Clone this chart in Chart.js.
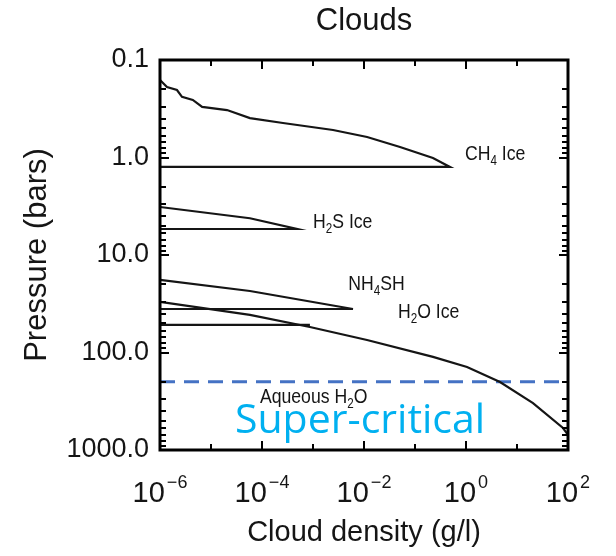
<!DOCTYPE html>
<html>
<head>
<meta charset="utf-8">
<title>Clouds</title>
<script src="https://cdn.jsdelivr.net/npm/chart.js@4"></script>
<style>
  body { margin: 0; background: #fff; }
  canvas { display: block; }
</style>
</head>
<body>
<canvas id="grafico" width="616" height="556"></canvas>
<script>
// cloud density (g/l) against pressure (bars), one array pair per cloud deck
const ch4Density = [1e-6, 1.37e-6, 2.15e-6, 2.7e-6, 4.4e-6, 6.7e-6, 2.06e-5, 5.8e-5, 2.58e-4, 2.47e-3, 0.0115, 0.0508, 0.225, 0.485, 1e-6];
const ch4Pressure = [0.16, 0.189, 0.203, 0.239, 0.257, 0.303, 0.326, 0.394, 0.443, 0.522, 0.616, 0.78, 1.01, 1.25, 1.25];

const h2sDensity = [1e-6, 5.8e-5, 4.85e-4, 1e-6];
const h2sPressure = [3.22, 4.2, 5.41, 5.41];

const nh4shDensity = [1e-6, 5.8e-5, 6.08e-3, 1e-6];
const nh4shPressure = [18.0, 23.4, 35.8, 35.8];

// water: ice deck running into the aqueous profile
const h2oDensity = [1e-6, 5.8e-5, 8.7e-4, 0.01146, 0.2254, 1.047, 4.64, 20.6, 79.8, 100];
const h2oPressure = [30.3, 41.2, 54.8, 74.5, 111, 141, 201, 330, 595, 700];
const h2oIceBaseDensity = [1e-6, 8.7e-4];
const h2oIceBasePressure = [52.2, 52.2];

// critical pressure of water
const criticalDensity = [1e-6, 100];
const criticalPressure = [200, 200];

const yTicks = [0.1, 1, 10, 100, 1000];
const yTickLabels = ['0.1', '1.0', '10.0', '100.0', '1000.0'];
const xTicks = [1e-6, 1e-4, 1e-2, 1, 100];
const xTickExponents = ['\u22126', '\u22124', '\u22122', '0', '2'];

// in-plot labels: segments [text, isSubscript], anchored at data coords (left, baseline)
const labelParts = [
  [['CH', 0], ['4', 1], [' Ice', 0]],
  [['H', 0], ['2', 1], ['S Ice', 0]],
  [['NH', 0], ['4', 1], ['SH', 0]],
  [['H', 0], ['2', 1], ['O Ice', 0]],
  [['Aqueous H', 0], ['2', 1], ['O', 0]]
];
const labelX = [0.955, 1.0e-3, 4.9e-3, 0.0464, 9.1e-5];
const labelY = [1.06, 5.28, 22.9, 44.3, 330];

const phaseLabel = 'Super-critical';
const phaseX = 2.95e-5;
const phaseY = 670;

const tinta = '#151515';
const sans = '"Liberation Sans", Arial, sans-serif';

function puntos(xs, ys) {
  return xs.map((x, i) => ({ x: x, y: ys[i] }));
}

function linea(xs, ys) {
  return {
    data: puntos(xs, ys),
    showLine: true,
    borderColor: tinta,
    borderWidth: 2.2,
    pointRadius: 0,
    fill: false,
    tension: 0
  };
}

// text with subscripts, squeezed horizontally like the original lettering
function textoCompuesto(ctx, parts, x, y, size, squeeze) {
  ctx.save();
  ctx.translate(x, y);
  ctx.scale(squeeze, 1);
  let cx = 0;
  parts.forEach(([t, sub]) => {
    const s = sub ? size * 0.66 : size;
    ctx.font = s + 'px ' + sans;
    ctx.fillText(t, cx, sub ? size * 0.22 : 0);
    cx += ctx.measureText(t).width;
  });
  ctx.restore();
}

const marco = {
  id: 'marco',
  afterDraw(chart) {
    const ctx = chart.ctx;
    const a = chart.chartArea;
    const xs = chart.scales.x;
    const ys = chart.scales.y;
    ctx.save();
    ctx.setLineDash([]);

    // inward tick marks on all four sides, filled as small bars
    ctx.fillStyle = '#000';
    for (let d = -1; d <= 3; d++) {
      for (let m = 1; m <= 9; m++) {
        const v = m * Math.pow(10, d);
        if (v > 1000) break;
        const py = Math.round(ys.getPixelForValue(v));
        const len = m === 1 ? 9 : 6;
        ctx.fillRect(a.left, py - 1, len, 2);
        ctx.fillRect(a.right - len, py - 1, len, 2);
      }
    }
    for (let e = -6; e <= 2; e++) {
      const px = Math.round(xs.getPixelForValue(Math.pow(10, e)));
      const len = e % 2 === 0 ? 9 : 6;
      ctx.fillRect(px - 1, a.bottom - len, 2, len);
      ctx.fillRect(px - 1, a.top, 2, len);
    }

    // plot frame
    ctx.strokeStyle = '#000';
    ctx.lineWidth = 3;
    ctx.strokeRect(a.left, a.top, a.right - a.left, a.bottom - a.top);

    // x tick labels as powers of ten
    ctx.fillStyle = tinta;
    ctx.textBaseline = 'alphabetic';
    ctx.textAlign = 'left';
    xTicks.forEach((v, i) => {
      const px = xs.getPixelForValue(v);
      ctx.font = '29px ' + sans;
      const wb = ctx.measureText('10').width;
      ctx.font = '18px ' + sans;
      const we = ctx.measureText(xTickExponents[i]).width;
      const x0 = px - (wb + 2 + we) / 2;
      ctx.font = '29px ' + sans;
      ctx.fillText('10', x0, a.bottom + 52);
      ctx.font = '18px ' + sans;
      ctx.fillText(xTickExponents[i], x0 + wb + 2, a.bottom + 38);
    });

    // cloud deck labels
    labelParts.forEach((parts, i) => {
      textoCompuesto(ctx, parts, xs.getPixelForValue(labelX[i]), ys.getPixelForValue(labelY[i]), 21, 0.84);
    });

    ctx.fillStyle = '#00B0F0';
    ctx.font = '41px "Open Sans", sans-serif';
    ctx.fillText(phaseLabel, xs.getPixelForValue(phaseX), ys.getPixelForValue(phaseY));
    ctx.restore();
  }
};

const datasets = [
  linea(ch4Density, ch4Pressure),
  linea(h2sDensity, h2sPressure),
  linea(nh4shDensity, nh4shPressure),
  linea(h2oDensity, h2oPressure),
  linea(h2oIceBaseDensity, h2oIceBasePressure),
  Object.assign(linea(criticalDensity, criticalPressure), {
    borderColor: '#4472C4',
    borderWidth: 3,
    borderDash: [15, 9]
  })
];

const ctx = document.getElementById('grafico').getContext('2d');
new Chart(ctx, {
  type: 'scatter',
  data: { datasets: datasets },
  options: {
    responsive: false,
    animation: false,
    layout: { padding: { top: 0, right: 48, bottom: 0, left: 0 } },
    plugins: {
      legend: { display: false },
      tooltip: { enabled: false },
      title: {
        display: true,
        fullSize: false,
        text: 'Clouds',
        color: tinta,
        font: { family: sans, size: 31, weight: 'normal' },
        padding: { top: 3, bottom: 19.8 }
      }
    },
    scales: {
      x: {
        type: 'logarithmic',
        position: 'bottom',
        min: 1e-6,
        max: 100,
        afterFit: s => { s.height = 106; },
        grid: { display: false, drawTicks: false },
        border: { display: false },
        ticks: { display: false },
        title: {
          display: true,
          text: 'Cloud density (g/l)',
          color: tinta,
          font: { family: sans, size: 29 },
          padding: { top: 0, bottom: 6 }
        }
      },
      y: {
        type: 'logarithmic',
        position: 'left',
        reverse: true,
        min: 0.1,
        max: 1000,
        afterBuildTicks: s => { s.ticks = yTicks.map(v => ({ value: v })); },
        afterFit: s => { s.width = 160; },
        grid: { display: false, drawTicks: false },
        border: { display: false },
        ticks: {
          autoSkip: false,
          padding: 11,
          color: tinta,
          font: { family: sans, size: 27 },
          callback: (v, i) => yTickLabels[i]
        },
        title: {
          display: true,
          text: 'Pressure (bars)',
          color: tinta,
          font: { family: sans, size: 31 },
          padding: { top: 19, bottom: 0 }
        }
      }
    }
  },
  plugins: [marco]
});
</script>
</body>
</html>
